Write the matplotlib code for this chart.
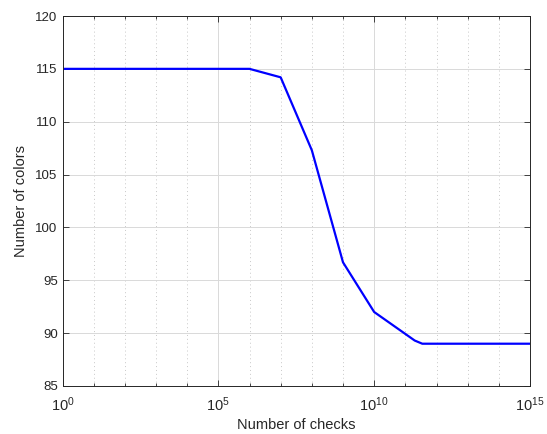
import numpy as np
import matplotlib
matplotlib.use("Agg")
import matplotlib.pyplot as plt
from matplotlib.ticker import FixedLocator, NullFormatter

# values
checks = [1e0, 1e6, 1e7, 1e8, 1e9, 1e10, 2e11, 3.5e11, 1e15]
colors = [115, 115, 114.2, 107.3, 96.7, 92.0, 89.3, 89.0, 89.0]
x_major = [1e0, 1e5, 1e10, 1e15]
y_major = [85, 90, 95, 100, 105, 110, 115, 120]

plt.rcParams['font.family'] = ['Liberation Sans', 'DejaVu Sans']
plt.rcParams['mathtext.fontset'] = 'custom'
plt.rcParams['mathtext.rm'] = 'Liberation Sans'
plt.rcParams['mathtext.it'] = 'Liberation Sans'

axis_col = '#262626'

fig = plt.figure(figsize=(5.47, 4.34), dpi=100)
ax = fig.add_axes([62.5 / 547, 48 / 434, (530 - 62.5) / 547, (386 - 16) / 434])

ax.plot(checks, colors, color=(0, 0, 1), linewidth=1.6)

ax.set_xscale('log')
ax.set_xlim(1e0, 1e15)
ax.set_ylim(85, 120)

ax.xaxis.set_major_locator(FixedLocator(x_major))
ax.set_xticklabels([r'$10^{%d}$' % int(np.log10(v)) for v in x_major])
minor = [10.0 ** k for k in range(16) if k % 5 != 0]
ax.xaxis.set_minor_locator(FixedLocator(minor))
ax.xaxis.set_minor_formatter(NullFormatter())
ax.set_yticks(y_major)

ax.grid(True, which='major', color='#d9d9d9', linewidth=0.7)
ax.grid(True, which='minor', axis='x', color='#c8c8c8', linestyle=(0, (1, 3)), linewidth=0.7)
ax.set_axisbelow(True)

ax.tick_params(which='both', direction='in', top=True, right=True, colors=axis_col,
               labelsize=9.5, width=0.6)
ax.tick_params(axis='x', which='major', labelsize=10.5, pad=7)
ax.tick_params(which='major', length=4)
ax.tick_params(which='minor', length=2.5)
for s in ax.spines.values():
    s.set_color(axis_col)
    s.set_linewidth(0.7)

ax.set_xlabel('Number of checks', fontsize=10.5, color=axis_col, labelpad=3)
ax.set_ylabel('Number of colors', fontsize=10.5, color=axis_col, labelpad=5)

fig.savefig('out.png', dpi=100)
